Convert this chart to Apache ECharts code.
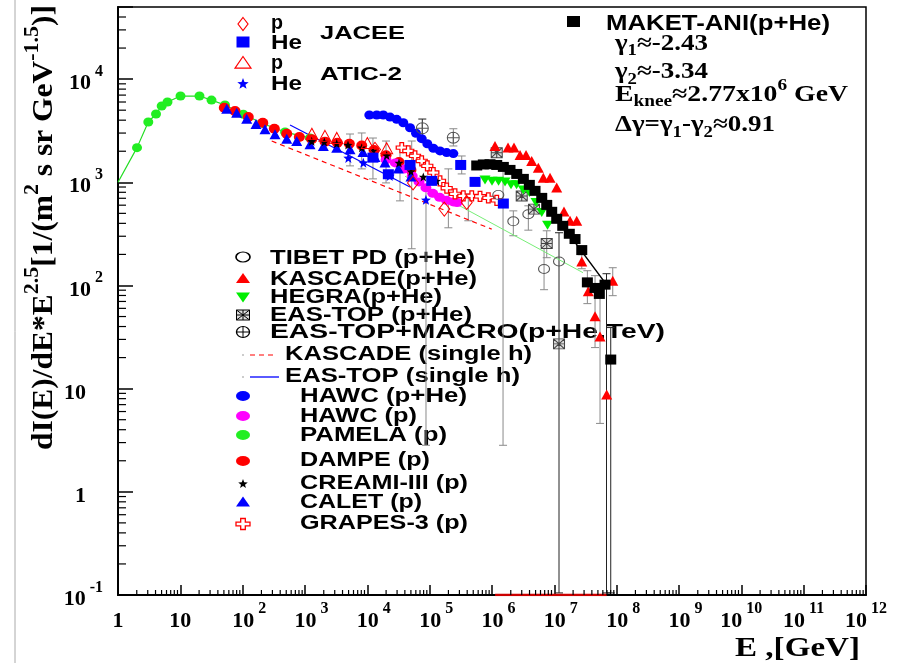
<!DOCTYPE html>
<html><head><meta charset="utf-8">
<script src="https://cdn.jsdelivr.net/npm/echarts@6/dist/echarts.min.js"></script>
<style>html,body{margin:0;padding:0;background:#fff}#c{width:912px;height:663px}</style>
</head><body><div id="c"></div>
<script>
// ---------------- DATA (log10 of E [GeV] and log10 of flux) ----------------
const xTickLabels = ['1','10','10^2','10^3','10^4','10^5','10^6','10^7','10^8','10^9','10^10','10^11','10^12'];
const yTickLabels = ['10^-1','1','10','10^2','10^3','10^4'];

const pamelaLgE = [0.305,0.486,0.61,0.701,0.794,1.003,1.307,1.5,1.716,2.01,2.33,2.68,3.08];
const pamelaLgF = [3.336,3.584,3.662,3.739,3.778,3.836,3.836,3.797,3.749,3.66,3.568,3.487,3.43];
const pamelaLineStart = [0, 3.0];

const dampeLgE = [1.705,1.877,2.09,2.322,2.508,2.707,2.909,3.108,3.321,3.518,3.711,3.91,4.107,4.3,4.508,4.70];
const dampeLgF = [3.722,3.69,3.632,3.577,3.519,3.471,3.439,3.417,3.394,3.384,3.374,3.357,3.313,3.262,3.197,3.12];

const caletLgE = [1.744,1.904,2.065,2.214,2.358,2.519,2.707,2.867,3.08,3.294,3.509,3.722,3.93,4.123,4.283,4.497,4.70];
const caletLgF = [3.713,3.674,3.616,3.565,3.513,3.465,3.423,3.40,3.368,3.352,3.336,3.32,3.294,3.246,3.193,3.134,3.057];

const creamLgE = [3.108,3.31,3.509,3.69,3.91,4.09,4.31,4.508,4.70,4.898,5.11];
const creamLgF = [3.397,3.39,3.375,3.362,3.336,3.304,3.26,3.188,3.105,3.052,3.013];

const hawcPHeLgE = [4.032,4.151,4.256,4.364,4.471,4.577,4.685,4.781,4.872,4.962,5.059,5.166,5.273,5.38];
const hawcPHeLgF = [3.652,3.652,3.652,3.632,3.61,3.577,3.529,3.475,3.423,3.374,3.33,3.304,3.288,3.278];

const hawcPLgE = [4.30,4.45,4.60,4.72,4.83,4.94,5.05,5.16,5.27,5.38,5.44];
const hawcPLgF = [3.217,3.188,3.13,3.062,3.004,2.946,2.893,2.854,2.825,2.81,2.804];

const grapesLgE = [4.552,4.657,4.765,4.872,4.962,5.059,5.166,5.273,5.407,5.54,5.675,5.808,5.941,6.076];
const grapesLgF = [3.336,3.304,3.256,3.207,3.159,3.094,3.014,2.943,2.888,2.868,2.868,2.864,2.849,2.825];

const jaceePLgE = [4.123,4.733,5.235,5.594];
const jaceePLgF = [3.319,2.994,2.74,2.804];
const jaceeHeLgE = [4.09,4.337,4.685,5.033,5.498,5.728,6.182];
const jaceeHeLgF = [3.239,3.078,3.168,3.014,3.168,3.004,2.794];

const aticPLgE = [3.11,3.32,3.51,4.0,4.31];
const aticPLgF = [3.47,3.45,3.43,3.38,3.33];
const aticHeLgE = [3.695,3.936,4.36,4.94];
const aticHeLgF = [3.236,3.19,3.062,2.83];

const tibetLgE = [6.101,6.342,6.583,6.835,7.075];
const tibetLgF = [2.878,2.622,2.691,2.16,2.233];

const macroLgE = [4.882,5.379];
const macroLgF = [3.523,3.432];

const eastopLgE = [6.076,6.477,6.674,6.878,7.075];
const eastopLgF = [3.287,2.868,2.74,2.407,1.434];

const hegraLgE = [5.888,6.0,6.105,6.209,6.305,6.394,6.502,6.599,6.706,6.798,6.891];
const hegraLgF = [3.023,3.009,3.009,3.004,2.975,2.975,2.926,2.902,2.804,2.707,2.583];

const kascadeLgE = [6.048,6.257,6.353,6.45,6.546,6.637,6.743,6.823,6.931,7.038,7.155,7.252,7.359,7.44,7.545,7.653,7.733,7.84,7.937];
const kascadeLgF = [3.352,3.338,3.338,3.265,3.265,3.207,3.142,3.045,3.045,2.949,2.717,2.627,2.627,2.233,1.943,1.701,1.505,0.944,2.046];

const maketLgE = [5.755,5.861,5.968,6.076,6.182,6.289,6.397,6.503,6.599,6.69,6.798,6.878,6.958,7.038,7.135,7.24,7.332,7.44,7.53,7.653,7.722,7.813,7.905];
const maketLgF = [3.163,3.173,3.175,3.168,3.149,3.12,3.081,3.033,2.975,2.917,2.849,2.781,2.714,2.646,2.578,2.501,2.45,2.343,2.03,1.976,1.918,2.008,1.282];

const maketFitLgE = [5.70,5.95,6.2,6.45,6.7,6.95,7.135,7.81];
const maketFitLgF = [3.165,3.178,3.15,3.06,2.92,2.72,2.578,2.03];

const kascadeSingleLgE = [2.466,5.995];
const kascadeSingleLgF = [3.40,2.546];
const eastopSingleLgE = [2.76,4.685];
const eastopSingleLgF = [3.555,2.955];
const greenFitLgE = [4.605,7.46];
const greenFitLgF = [3.059,2.124];
const redBaseLgE = [6.05,7.84];
const redBaseLgF = [-1,-1];

// error bars: log10 E, log10 upper, log10 lower, dark flag
const errLgE  = [3.722,3.91,4.09,4.30,4.524,4.712,4.941,6.177,5.30,5.62,4.882,5.38,5.514,6.342,6.583,6.835,6.878,7.075,7.44,7.53,7.653,7.733,7.837,7.905,7.937];
const errLgHi = [3.468,3.478,3.429,3.40,3.333,3.40,2.936,3.159,3.13,2.888,3.613,3.519,3.255,2.723,2.772,2.385,2.53,2.511,2.298,2.143,2.095,1.921,2.114,1.592,2.172];
const errLgLo = [3.159,3.13,3.033,2.994,2.82,2.356,0.451,0.451,2.559,2.627,3.429,3.352,3.081,2.482,2.536,1.959,2.269,-0.98,2.162,1.824,1.398,0.663,-0.98,-0.98,1.901];
const errDark = [0,0,0,0,0,0,0,0,0,0,1,0,0,0,0,0,0,1,0,0,0,0,1,1,0];

// ---------------- helpers ----------------
const P = v => Math.pow(10, v);
const pts = (a, b) => a.map((e, i) => [P(e), P(b[i])]);
const SANS = '"Liberation Sans", Arial, sans-serif';
const SERIF = '"Liberation Serif", "Times New Roman", serif';

function starPts() { const p = []; for (let k = 0; k < 10; k++) { const a = -Math.PI/2 + k*Math.PI/5; const r = k % 2 ? 0.42 : 1; p.push([r*Math.cos(a), r*Math.sin(a)]); } return p; }
const SH = {
  tri: [[0,-1],[1,0.8],[-1,0.8]],
  tdown: [[-1,-0.8],[1,-0.8],[0,1]],
  diamond: [[0,-1],[1,0],[0,1],[-1,0]],
  star: starPts(),
  square: [[-1,-1],[1,-1],[1,1],[-1,1]],
  cross: [[-0.33,-1],[0.33,-1],[0.33,-0.33],[1,-0.33],[1,0.33],[0.33,0.33],[0.33,1],[-0.33,1],[-0.33,0.33],[-1,0.33],[-1,-0.33],[-0.33,-0.33]]
};
const sym = n => 'path://M' + SH[n].map(p => p[0].toFixed(3) + ',' + p[1].toFixed(3)).join('L') + 'Z';
const SYM_OPLUS = 'path://M-1,0A1,1,0,1,1,1,0A1,1,0,1,1,-1,0ZM-1,0L1,0M0,-1L0,1';
const SYM_BOXX = 'path://M-1,-1L1,-1L1,1L-1,1ZM-1,-1L1,1M1,-1L-1,1M0,-1L0,1M-1,0L1,0';

function scatter(name, data, symbol, size, fill, stroke, lw, z) {
  return { type: 'scatter', name, data, symbol, symbolSize: size, silent: true, z: z || 3,
    itemStyle: { color: fill, borderColor: stroke || fill, borderWidth: lw || 0, opacity: 1 } };
}
function line(data, color, width, type, z) {
  return { type: 'line', data, symbol: 'none', silent: true, z: z || 2, smooth: false,
    lineStyle: { color, width, type: type || 'solid' } };
}

// text measuring
const mctx = document.createElement('canvas').getContext('2d');
function mw(t, size, fam) { mctx.font = 'bold ' + size + 'px ' + fam; return mctx.measureText(t).width; }
// parts: [text, size, dy, fam]
function ctext(parts, x, y, target, opts) {
  opts = opts || {};
  let cx = 0; const ch = [];
  parts.forEach(p => {
    const fam = p[3] || SANS;
    ch.push({ type: 'text', x: cx, y: p[2] || 0, silent: true,
      style: { text: p[0], font: 'bold ' + p[1] + 'px ' + fam, fill: '#000',
        align: 'left', verticalAlign: 'middle', textAlign: 'left', textVerticalAlign: 'middle' } });
    cx += mw(p[0], p[1], fam);
  });
  const W = cx;
  const s = target ? target / W : (opts.scale || 1);
  if (opts.center) ch.forEach(c => c.x -= W / 2);
  return { type: 'group', x, y, scaleX: s, rotation: opts.rotation || 0, children: ch, silent: true };
}
function icon(n, cx, cy, w, h, fill, stroke, lw) {
  return { type: 'polygon', silent: true, shape: { points: SH[n].map(p => [cx + p[0]*w/2, cy + p[1]*h/2]) },
    style: { fill, stroke: stroke || fill, lineWidth: lw || 0 } };
}
function ell(cx, cy, w, h, fill, stroke, lw) {
  return { type: 'circle', silent: true, x: cx, y: cy, scaleX: w / h, shape: { cx: 0, cy: 0, r: h / 2 },
    style: { fill, stroke: stroke || fill, lineWidth: lw || 0 } };
}
function ln(x1, y1, x2, y2, color, w, dash) {
  return { type: 'line', silent: true, shape: { x1, y1, x2, y2 }, style: { stroke: color, lineWidth: w || 1, lineDash: dash || null } };
}

// ---------------- axis label formatting ----------------
const lblRich = {
  b: { fontFamily: SERIF, fontWeight: 'bold', fontSize: 22, lineHeight: 31, color: '#000', verticalAlign: 'bottom' },
  s: { fontFamily: SERIF, fontWeight: 'bold', fontSize: 16, lineHeight: 16, color: '#000', verticalAlign: 'top', padding: [0, 0, 0, 4] },
  pl: { width: 13, height: 10 },
  pr: { width: 17, height: 10 }
};
function expOf(v) { const l = Math.log10(v); const e = Math.round(l); return Math.abs(l - e) < 1e-6 ? e : null; }
function splitLbl(str) { const i = str.indexOf('^'); return i < 0 ? [str, ''] : [str.slice(0, i), str.slice(i + 1)]; }
function xFmt(v) {
  const e = expOf(v); if (e === null || e < 0 || e > 12) return '';
  const [b, s] = splitLbl(xTickLabels[e]);
  if (!s) return '{b|' + b + '}';
  return (s.length === 1 ? '{pl|}' : '') + '{b|' + b + '}{s|' + s + '}';
}
function yFmt(v) {
  const e = expOf(v); if (e === null || e < -1 || e > 4) return '';
  const [b, s] = splitLbl(yTickLabels[e + 1]);
  if (!s) return '{b|' + b + '}{pr|}';
  return '{b|' + b + '}{s|' + s + '}';
}

// minor tick positions
const minorX = []; for (let k = 0; k < 12; k++) for (let m = 2; m <= 9; m++) minorX.push([m * P(k), 0.1]);
const minorY = []; for (let k = -1; k <= 4; k++) for (let m = 2; m <= 9; m++) { const v = m * P(k); if (v < 5e4) minorY.push([1, v]); }

const errData = errLgE.map((e, i) => [P(e), P(errLgHi[i]), P(errLgLo[i]), errDark[i]]);

// ---------------- chart ----------------
const chart = echarts.init(document.getElementById('c'), null, { renderer: 'canvas' });
const RED = '#ff0000', BLUE = '#0000ff', GREEN = '#00ee00', MAG = '#ff00ff';

const series = [
  line([[P(pamelaLineStart[0]), P(pamelaLineStart[1])]].concat(pts(pamelaLgE, pamelaLgF)), '#22dd22', 1.2, 'solid', 2),
  line(pts(greenFitLgE, greenFitLgF), '#77ee77', 1, 'solid', 2),
  line(pts(kascadeSingleLgE, kascadeSingleLgF), RED, 1.2, [5, 4], 2),
  line(pts(eastopSingleLgE, eastopSingleLgF), BLUE, 1.2, 'solid', 2),
  { type: 'custom', silent: true, z: 2, data: errData,
    renderItem: function (params, api) {
      const hi = api.coord([api.value(0), api.value(1)]);
      const lo = api.coord([api.value(0), api.value(2)]);
      const c = api.value(3) ? '#222' : '#8a8a8a';
      return { type: 'group', children: [
        { type: 'line', shape: { x1: hi[0], y1: hi[1], x2: lo[0], y2: lo[1] }, style: { stroke: c, lineWidth: 1 } },
        { type: 'line', shape: { x1: hi[0] - 4, y1: hi[1], x2: hi[0] + 4, y2: hi[1] }, style: { stroke: c, lineWidth: 1 } },
        { type: 'line', shape: { x1: lo[0] - 4, y1: lo[1], x2: lo[0] + 4, y2: lo[1] }, style: { stroke: c, lineWidth: 1 } }
      ] };
    } },
  scatter('PAMELA', pts(pamelaLgE, pamelaLgF), 'circle', [10, 9], '#22ee22', null, 0, 3),
  scatter('DAMPE', pts(dampeLgE, dampeLgF), 'circle', [11, 10], RED, null, 0, 4),
  scatter('CALET', pts(caletLgE, caletLgF), sym('tri'), [11, 10], BLUE, null, 0, 5),
  scatter('HAWC p+He', pts(hawcPHeLgE, hawcPHeLgF), 'circle', [10, 9], BLUE, null, 0, 4),
  scatter('HAWC p', pts(hawcPLgE, hawcPLgF), 'circle', [11, 9], MAG, null, 0, 4),
  scatter('GRAPES', pts(grapesLgE, grapesLgF), sym('cross'), [11, 10], '#fff', RED, 1.2, 5),
  scatter('CREAM', pts(creamLgE, creamLgF), sym('star'), [9, 9], '#000', null, 0, 6),
  scatter('ATIC p', pts(aticPLgE, aticPLgF), sym('tri'), [12, 11], 'rgba(0,0,0,0)', RED, 1, 6),
  scatter('ATIC He', pts(aticHeLgE, aticHeLgF), sym('star'), [10, 10], BLUE, null, 0, 6),
  scatter('JACEE p', pts(jaceePLgE, jaceePLgF), sym('diamond'), [11, 14], 'rgba(0,0,0,0)', RED, 1, 6),
  scatter('JACEE He', pts(jaceeHeLgE, jaceeHeLgF), 'rect', [11, 10], BLUE, null, 0, 6),
  scatter('TIBET', pts(tibetLgE, tibetLgF), 'circle', [11, 9], 'rgba(0,0,0,0)', '#555', 1, 6),
  scatter('EAS-TOP+MACRO', pts(macroLgE, macroLgF), SYM_OPLUS, [12, 11], 'rgba(0,0,0,0)', '#555', 1, 6),
  scatter('EAS-TOP', pts(eastopLgE, eastopLgF), SYM_BOXX, [11, 10], '#ddd', '#444', 1, 6),
  scatter('HEGRA', pts(hegraLgE, hegraLgF), sym('tdown'), [11, 9], '#00ee00', null, 0, 6),
  scatter('KASCADE', pts(kascadeLgE, kascadeLgF), sym('tri'), [11, 10], RED, null, 0, 6),
  line(pts(maketFitLgE, maketFitLgF), '#000', 1.5, 'solid', 6),
  scatter('MAKET-ANI', pts(maketLgE, maketLgF), 'rect', [11, 10], '#000', null, 0, 7),
  line(pts(redBaseLgE, redBaseLgF), '#cc0000', 2.5, 'solid', 8),
  { type: 'custom', silent: true, z: 9, data: minorX,
    renderItem: function (params, api) { const p = api.coord([api.value(0), api.value(1)]);
      return { type: 'line', shape: { x1: p[0], y1: p[1], x2: p[0], y2: p[1] - 5 }, style: { stroke: '#000', lineWidth: 1.2 } }; } },
  { type: 'custom', silent: true, z: 9, data: minorY,
    renderItem: function (params, api) { const p = api.coord([api.value(0), api.value(1)]);
      return { type: 'line', shape: { x1: p[0], y1: p[1], x2: p[0] + 8, y2: p[1] }, style: { stroke: '#000', lineWidth: 1.2 } }; } }
];

// ---------------- legend / annotations (graphic) ----------------
const g = [];
g.push(ln(15, 0, 15, 663, '#aaa', 1));
// top-left legend
g.push(icon('diamond', 243, 24, 10, 13, 'rgba(0,0,0,0)', RED, 1.2));
g.push({ type: 'rect', silent: true, shape: { x: 236.5, y: 36.5, width: 13, height: 11 }, style: { fill: BLUE } });
g.push(icon('tri', 243, 63, 16, 13, 'rgba(0,0,0,0)', RED, 1.2));
g.push(icon('star', 243, 84, 12, 12, BLUE));
g.push(ctext([['p', 21, 0]], 271, 23.5, 12));
g.push(ctext([['He', 21, 0]], 271, 43.5, 31));
g.push(ctext([['JACEE', 19, 0]], 320, 33.5, 85));
g.push(ctext([['p', 21, 0]], 271, 63, 12));
g.push(ctext([['He', 21, 0]], 271, 84, 31));
g.push(ctext([['ATIC-2', 19, 0]], 320, 75, 82));
// MAKET box text
g.push({ type: 'rect', silent: true, shape: { x: 567, y: 16, width: 13, height: 11 }, style: { fill: '#000' } });
g.push(ctext([['MAKET-ANI(p+He)', 22, 0]], 606, 23.5, 224));
g.push(ctext([['γ', 23, 0, SERIF], ['1', 16, 7, SERIF], ['≈-2.43', 23, 0, SERIF]], 615, 44, 93));
g.push(ctext([['γ', 23, 0, SERIF], ['2', 16, 7, SERIF], ['≈-3.34', 23, 0, SERIF]], 615, 72.5, 93));
g.push(ctext([['E', 23, 0, SERIF], ['knee', 16, 7, SERIF], ['≈2.77x10', 23, 0, SERIF], ['6', 16, -9, SERIF], [' GeV', 23, 0, SERIF]], 615, 95, 233));
g.push(ctext([['Δγ=γ', 23, 0, SERIF], ['1', 16, 7, SERIF], ['-γ', 23, 0, SERIF], ['2', 16, 7, SERIF], ['≈0.91', 23, 0, SERIF]], 615, 125.5, 160));
// legend group A
g.push(ell(243, 257, 14, 10, 'rgba(0,0,0,0)', '#000', 1.2));
g.push(icon('tri', 243, 278.5, 14, 11, RED));
g.push(icon('tdown', 243, 297, 14, 11, '#00ee00'));
g.push({ type: 'group', silent: true, children: [
  { type: 'rect', shape: { x: 236.5, y: 310, width: 13, height: 10 }, style: { fill: '#ddd', stroke: '#000', lineWidth: 1 } },
  ln(236.5, 310, 249.5, 320, '#000', 1), ln(249.5, 310, 236.5, 320, '#000', 1), ln(243, 310, 243, 320, '#000', 1), ln(236.5, 315, 249.5, 315, '#000', 1)
] });
g.push(ell(243, 332, 13, 11, 'rgba(0,0,0,0)', '#000', 1.2));
g.push(ln(236.5, 332, 249.5, 332, '#000', 1)); g.push(ln(243, 326.5, 243, 337.5, '#000', 1));
g.push(ctext([['TIBET PD (p+He)', 20, 0]], 270, 258, 205));
g.push(ctext([['KASCADE(p+He)', 20, 0]], 270, 279, 207));
g.push(ctext([['HEGRA(p+He)', 20, 0]], 270, 297, 172));
g.push(ctext([['EAS-TOP (p+He)', 20, 0]], 270, 315, 202));
g.push(ctext([['EAS-TOP+MACRO(p+He,TeV)', 20, 0]], 270, 332, 395));
// legend group B
g.push(ell(243, 355, 2, 2, '#bbb')); g.push(ln(250, 355, 277, 355, RED, 1.2, [5, 4]));
g.push(ell(243, 377, 2, 2, '#bbb')); g.push(ln(250, 377, 279, 377, BLUE, 1.3));
g.push(ctext([['KASCADE (single h)', 20, 0]], 285, 354.5, 247));
g.push(ctext([['EAS-TOP (single h)', 20, 0]], 285, 376, 235));
// legend group C
g.push(ell(243, 396, 14, 10, BLUE));
g.push(ell(243, 416, 14, 10, MAG));
g.push(ell(243, 435, 14, 10, '#22ee22'));
g.push(ell(243, 461, 14, 10, RED));
g.push(icon('star', 243, 484, 10, 10, '#000'));
g.push(icon('tri', 243, 502, 14, 11, BLUE));
g.push(icon('cross', 243, 524, 14, 11, '#fff', RED, 1.3));
g.push(ctext([['HAWC (p+He)', 20, 0]], 300, 396.3, 167));
g.push(ctext([['HAWC (p)', 20, 0]], 300, 416.3, 117));
g.push(ctext([['PAMELA (p)', 20, 0]], 300, 435.5, 147));
g.push(ctext([['DAMPE (p)', 20, 0]], 300, 460.3, 130));
g.push(ctext([['CREAMI-III (p)', 20, 0]], 300, 483.8, 168));
g.push(ctext([['CALET (p)', 20, 0]], 300, 502.2, 122));
g.push(ctext([['GRAPES-3 (p)', 20, 0]], 300, 523.7, 168));
// axis titles
g.push(ctext([['E ,[GeV]', 28, 0, SERIF]], 735, 649, 125));
g.push(ctext([['dI(E)/dE*E', 30, 0, SERIF], ['2.5', 21, -11, SERIF], ['[1/(m', 30, 0, SERIF], ['2', 21, -11, SERIF], [' s sr GeV', 30, 0, SERIF], ['-1.5', 21, -11, SERIF], [')]', 30, 0, SERIF]],
  44, 227.5, 445, { center: true, rotation: Math.PI / 2 }));

chart.setOption({
  animation: false,
  backgroundColor: '#fff',
  grid: { left: 118, right: 46, top: 7, bottom: 68, show: true, borderColor: '#000', borderWidth: 1.5, backgroundColor: 'rgba(0,0,0,0)' },
  xAxis: { type: 'log', logBase: 10, min: 1, max: 1e12, interval: 1, splitNumber: 12,
    axisLine: { show: true, lineStyle: { color: '#000', width: 2 } },
    axisTick: { show: true, inside: true, length: 10, lineStyle: { color: '#000', width: 1.5 } },
    splitLine: { show: false }, minorTick: { show: false },
    axisLabel: { margin: 6, formatter: xFmt, rich: lblRich, color: '#000' } },
  yAxis: { type: 'log', logBase: 10, min: 0.1, max: 5e4, interval: 1, splitNumber: 6,
    axisLine: { show: true, lineStyle: { color: '#000', width: 2 } },
    axisTick: { show: true, inside: true, length: 15, lineStyle: { color: '#000', width: 1.5 } },
    splitLine: { show: false }, minorTick: { show: false },
    axisLabel: { margin: 15, formatter: yFmt, rich: lblRich, color: '#000' } },
  series,
  graphic: { elements: g }
});
</script></body></html>
